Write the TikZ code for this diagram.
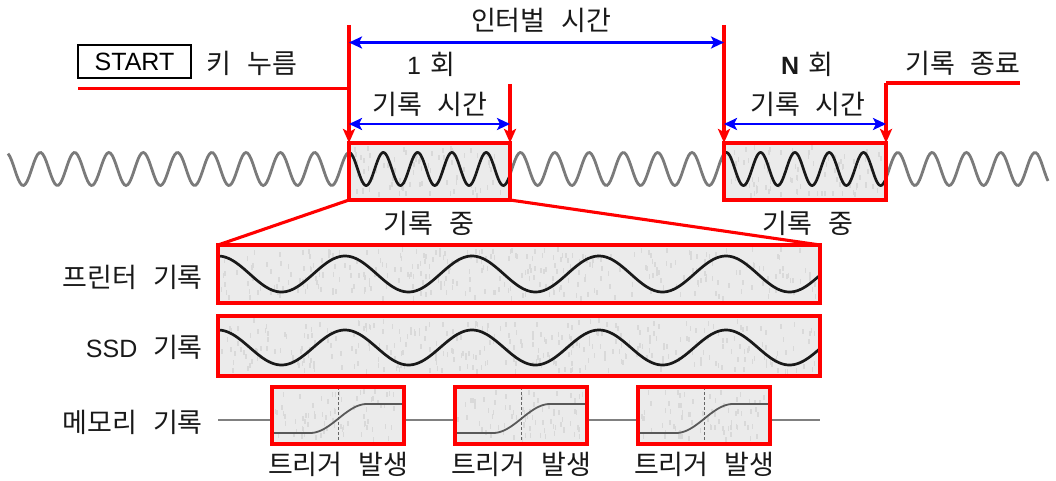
\documentclass[tikz,border=0pt]{standalone}
\usepackage{fontspec}
\setmainfont{Noto Sans CJK KR}[WordSpace=2.6]
\newfontfamily\lat{Liberation Sans}
\usetikzlibrary{arrows.meta,calc}
\tikzset{
  redline/.style={draw={rgb,255:red,255;green,0;blue,0}, line width=3.1pt},
  redarrow/.style={redline, -{Stealth[length=14pt,width=12pt,inset=3pt]}},
  bluearrow/.style={draw={rgb,255:red,0;green,0;blue,255}, line width=2.7pt,
     {Stealth[length=13pt,width=12pt,inset=3pt]}-{Stealth[length=13pt,width=12pt,inset=3pt]}},
  recbox/.style={rectangle, draw={rgb,255:red,255;green,0;blue,0}, line width=3.1pt,
     fill=black!8, inner sep=0pt, outer sep=0pt, anchor=north west},
  kt/.style={font=\fontsize{27}{27}\selectfont, text=black!90, inner sep=0pt},
  graywave/.style={draw=black!52, line width=2.8pt},
  blackwave/.style={draw=black!90, line width=2.7pt},
  memline/.style={draw=black!50, line width=1.4pt},
  sig/.style={draw=black!65, line width=1.8pt},
  dashv/.style={draw=black!60, line width=0.9pt, dash pattern=on 3pt off 2pt},
  speck/.style={fill=black!15},
}
\newcommand\mytexture[5]{%
  \foreach \i in {1,...,#5}{%
    \pgfmathsetmacro\rx{#1+2+rnd*(#3-6)}%
    \pgfmathsetmacro\ry{#2+2+rnd*(#4-9)}%
    \fill[speck] (\rx,\ry) rectangle ++(1.6,5);
  }}
\begin{document}
\begin{tikzpicture}[x=1pt,y=-1pt]
\pgfmathsetseed{7}
\useasboundingbox (0,0) rectangle (1056,481);
\fill[white] (0,0) rectangle (1056,481);

% top wave
\draw[graywave] plot[domain=8:1048, samples=600] (\x, {169 - 16.5*cos(10.4956*(\x-349))});

% recording boxes on top wave
\node[recbox, minimum width=161pt, minimum height=57pt] (b1) at (349,143) {};
\node[recbox, minimum width=162pt, minimum height=57pt] (b2) at (724,143) {};
\mytexture{349}{143}{161}{57}{90}
\mytexture{724}{143}{162}{57}{90}
\draw[blackwave] plot[domain=350:509, samples=200] (\x, {169 - 16.5*cos(10.4956*(\x-349))});
\draw[blackwave] plot[domain=725:885, samples=200] (\x, {169 - 16.5*cos(10.4956*(\x-349))});
\draw[redline] (b1.north west) rectangle (b1.south east);
\draw[redline] (b2.north west) rectangle (b2.south east);

% texts top
\node[kt] (interval) at (541,20) {인터벌 시간};
\node[draw=black, line width=1.6pt, minimum width=113pt, minimum height=33pt, inner sep=0pt,
      font=\lat\fontsize{25}{25}\selectfont] (start) at (134.5,61.5) {START};
\node[kt] (key) at (252,63) {키 누름};
\node[kt] (one) at (431,64) {{\lat\fontsize{25}{25}\selectfont 1}\hspace{9pt}회};
\node[kt] (nth) at (807,64) {{\lat\bfseries\fontsize{25}{25}\selectfont N}\hspace{9pt}회};
\node[kt] (endrec) at (963,63) {기록 종료};
\node[kt] (rt1) at (430,104) {기록 시간};
\node[kt] (rt2) at (808,104) {기록 시간};
\node[kt] (ing1) at (429,223) {기록 중};
\node[kt] (ing2) at (808,223) {기록 중};

% red markers
\coordinate (s0) at (78,88.5);
\coordinate (s1) at (349,88.5);
\coordinate (t1) at (349,25);
\coordinate (t2) at (724,25);
\coordinate (e1) at (510,84);
\coordinate (f0) at (1020,83);
\coordinate (f1) at (886,83);
\draw[redline] (s0) -- (s1);
\draw[redarrow] (t1) -- (t1 |- b1.north);
\draw[redarrow] (e1) -- (e1 |- b1.north);
\draw[redarrow] (t2) -- (t2 |- b2.north);
\draw[redline] (f0) -- (f1);
\draw[redarrow] (f1) -- (f1 |- b2.north);

% blue arrows
\coordinate (ia) at (349,42.5);
\coordinate (ib) at (724,42.5);
\draw[bluearrow] (ia) -- (ib);
\coordinate (ra1) at (349,124);
\coordinate (rb1) at (510,124);
\draw[bluearrow] (ra1) -- (rb1);
\coordinate (ra2) at (724,124);
\coordinate (rb2) at (886,124);
\draw[bluearrow] (ra2) -- (rb2);

% expanded boxes
\node[recbox, minimum width=602pt, minimum height=58pt] (prn) at (218,245) {};
\node[recbox, minimum width=602pt, minimum height=60pt] (ssd) at (218,316) {};
\mytexture{218}{245}{602}{58}{330}
\mytexture{218}{316}{602}{60}{340}
\draw[blackwave] plot[domain=219:819, samples=300] (\x, {274 - 18*cos(2.83465*(\x-218))});
\draw[blackwave] plot[domain=219:819, samples=300] (\x, {347.5 - 17.5*cos(2.83465*(\x-218))});
\draw[redline] (prn.north west) rectangle (prn.south east);
\draw[redline] (ssd.north west) rectangle (ssd.south east);
\draw[redline] (b1.south west) -- (prn.north west);
\draw[redline] (b1.south east) -- (prn.north east);

% labels left
\node[kt, anchor=east] (lprn) at (203,277) {프린터 기록};
\node[kt, anchor=east] (lssd) at (203,347) {{\lat\fontsize{25}{25}\selectfont SSD} 기록};
\node[kt, anchor=east] (lmem) at (203,422) {메모리 기록};

% memory row
\coordinate (m0) at (218,420);
\coordinate (m1) at (820,420);
\draw[memline] (m0) -- (m1);
\foreach \L/\n in {272/ma, 455/mb, 638/mc}{
  \node[recbox, minimum width=132pt, minimum height=57pt] (\n) at (\L,387) {};
  \mytexture{\L}{387}{132}{57}{75}
  \draw[dashv] (\n.north) -- (\n.south);
  \draw[sig] (\L+1,433) -- (\L+38,433)
     plot[domain=\L+38:\L+95, samples=40] (\x, {418.5 + 14.5*cos(3.15789*(\x-\L-38))})
     -- (\L+131,404);
  \draw[redline] (\n.north west) rectangle (\n.south east);
  \node[kt] (lab\n) at ($(\n.south)+(0,20)$) {트리거 발생};
}
\end{tikzpicture}
\end{document}
